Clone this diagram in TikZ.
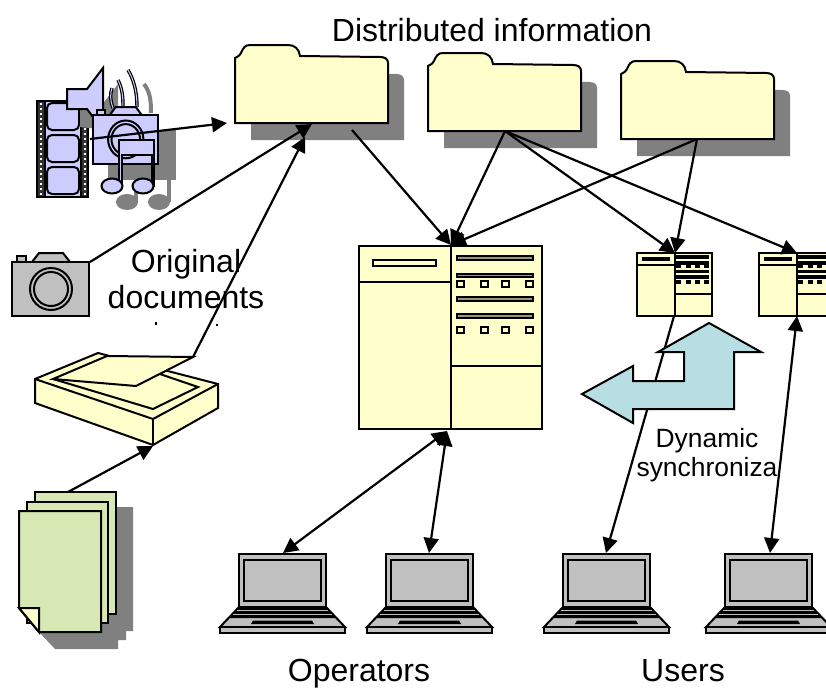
\documentclass[tikz,border=0pt]{standalone}
\usepackage{fontspec}
\setmainfont{Liberation Sans}
\usetikzlibrary{arrows.meta}
\definecolor{paleyellow}{HTML}{FFFFCC}
\definecolor{paleblue}{HTML}{B7DEE2}
\definecolor{palegreen}{HTML}{D7E8B5}
\definecolor{lavender}{HTML}{CCCCFF}
\definecolor{iconshadow}{HTML}{808080}
\definecolor{devicegray}{HTML}{C0C0C0}
\newcommand{\folderpath}{(0,13) .. controls (4,11) and (5,10) .. (6,8) .. controls (8,3) and (10,0) .. (15,0) -- (53,0) .. controls (60,0) and (64,4) .. (65,11) -- (145,12) .. controls (150,12) and (153,14) .. (153,18) -- (153,78) -- (0,78) -- cycle}
\tikzset{
    thickline/.style = {draw = black, line width = 2pt},
    link/.style = {black, line width = 2.2pt, -{Triangle[length = 15pt, width = 15pt]}},
    twolink/.style = {black, line width = 2.2pt, {Triangle[length = 15pt, width = 15pt]}-{Triangle[length = 15pt, width = 15pt]}},
    bigtext/.style = {font = \fontsize{32}{36}\selectfont, align = center, inner sep = 0pt},
    smalltext/.style = {font = \fontsize{26.4}{29}\selectfont, align = center, inner sep = 0pt},
    pics/folder/.style = {code = {
        \fill[iconshadow, shift = {(16,17)}] \folderpath;
        \draw[thickline, fill = paleyellow] \folderpath;
    }},
    pics/server/.style = {code = {
        \draw[thickline, fill = paleyellow] (0,0) rectangle (183,183);
        \draw[thickline] (92,0) -- (92,183);
        \draw[thickline] (0,36) -- (92,36);
        \draw[thickline] (92,120) -- (183,120);
        \draw[thickline, fill = paleyellow] (14,14) rectangle (77,20);
        \foreach \y in {10,27.5,51,68}
            \draw[thickline, fill = paleyellow!60!black] (98,\y) rectangle (174,\y+3.5);
        \foreach \y in {35,81}
            \foreach \x in {98,122,143,167}
                \draw[thickline, fill = paleyellow] (\x,\y) rectangle (\x+7,\y+6);
    }},
    pics/laptop/.style = {code = {
        \draw[thickline, fill = devicegray] (0,0) rectangle (87,53);
        \draw[thickline, fill = devicegray] (5,6) rectangle (82,47);
        \draw[thickline, fill = devicegray] (0,53) -- (87,53) -- (106,73) -- (-19,73) -- cycle;
        \draw[thickline, fill = devicegray] (-19,73) rectangle (106,79);
        \fill (0,53) -- (87,53) -- (98,64) -- (-11,64) -- cycle;
        \draw[devicegray, line width = .9pt] (-2,56.5) -- (89,56.5);
        \draw[devicegray, line width = .9pt] (-6,60.5) -- (93,60.5);
        \fill (14,66.5) -- (73,66.5) -- (75,70) -- (12,70) -- cycle;
    }},
    pics/photocam/.style = {code = {
        \draw[thickline, fill = #1] (5,9) rectangle (14,3);
        \draw[thickline, fill = #1] (20,9) -- (27,0) -- (51,0) -- (58,9) -- cycle;
        \draw[thickline, fill = #1] (0,9) rectangle (77,63);
        \draw[thickline, fill = #1] (39,36) circle (21);
        \draw[thickline, fill = #1] (39,36) circle (17);
    }},
}
\begin{document}
\begin{tikzpicture}[x = 1pt, y = -1pt]
    \useasboundingbox (0,0) rectangle (826,688);
    \clip (0,0) rectangle (826,688);

    \coordinate (filmout) at (90,139);
    \coordinate (photoout) at (90,262);
    \coordinate (scanout) at (193,357);
    \coordinate (scanin) at (153,446);
    \coordinate (pagesout) at (68,492);
    \coordinate (folderin) at (227,123);
    \coordinate (folderphoto) at (312,124);
    \coordinate (folderscan) at (305,137);
    \coordinate (folderaout) at (352,130);
    \coordinate (folderbout) at (505,131);
    \coordinate (folderdout) at (697,139);
    \coordinate (mainin) at (451,245);
    \coordinate (mainout) at (447,431);
    \coordinate (sidein) at (675,253);
    \coordinate (sideout) at (674,316);
    \coordinate (farin) at (797,253);
    \coordinate (farout) at (797,316);
    \coordinate (laptopa) at (283,553);
    \coordinate (laptopb) at (429,553);
    \coordinate (laptopc) at (606,553);
    \coordinate (laptopd) at (770,553);

    \draw[thickline, fill = black!80] (37,101) rectangle (88,197);
    \draw[white, line width = 2pt, dash pattern = on 2pt off 3pt] (41,103) -- (41,195);
    \draw[white, line width = 2pt, dash pattern = on 2pt off 3pt] (84.5,103) -- (84.5,195);
    \draw[thickline, fill = lavender] (45,101) rectangle (81,197);
    \foreach \y in {103,135,167}
        \draw[thickline, fill = lavender, rounded corners = 5pt] (47,\y) rectangle (79,\y+27);
    \fill[iconshadow] (80,108) -- (102,105) -- (118,84) -- (118,131) -- (80,127) -- cycle;
    \draw[iconshadow, line width = 4pt] (151,113) .. controls (151,100) and (150,92) .. (144,84);
    \fill[iconshadow] (108,130) rectangle (176,180);
    \fill[iconshadow] (134,156) rectangle (171,171);
    \fill[iconshadow] (134,156) rectangle (138,202);
    \fill[iconshadow] (167,156) rectangle (171,202);
    \fill[iconshadow] (127,202) ellipse (11 and 8);
    \fill[iconshadow] (159,202) ellipse (11 and 8);

    \draw[thickline, fill = lavender] (67,89) -- (87,89) -- (103,68) -- (103,130) -- (87,109) -- (67,109) -- cycle;
    \draw[black, line width = 3.4pt] (113,108) .. controls (110,100) and (110,94) .. (112,88);
    \draw[black, line width = 3.4pt] (123,106) .. controls (123,96) and (122,88) .. (118,80);
    \draw[black, line width = 3.4pt] (137,107) .. controls (137,92) and (134,80) .. (128,70);
    \draw[lavender, line width = 1pt] (113,108) .. controls (110,100) and (110,94) .. (112,88);
    \draw[lavender, line width = 1pt] (123,106) .. controls (123,96) and (122,88) .. (118,80);
    \draw[lavender, line width = 1pt] (137,107) .. controls (137,92) and (134,80) .. (128,70);
    \pic[xscale = .84, yscale = .9] at (93,107) {photocam = lavender};
    \draw[thickline, fill = lavender] (119,140) -- (154,140) -- (154,186) -- (151.5,186) -- (151.5,155) -- (122,155) -- (122,186) -- (119,186) -- cycle;
    \draw[thickline, fill = lavender] (112,186) ellipse (10.5 and 7.5);
    \draw[thickline, fill = lavender] (143,186) ellipse (10.5 and 7.5);

    \pic at (12,253) {photocam = devicegray};

    \draw[thickline, fill = paleyellow] (35,379) -- (98,353) -- (218,384) -- (218,408) -- (153,445) -- (35,403) -- cycle;
    \draw[thickline] (35,379) -- (153,419) -- (218,384);
    \draw[thickline] (153,419) -- (153,445);
    \draw[thickline] (53,379) -- (153,409) -- (198,387) -- (107,356);
    \draw[thickline, fill = paleyellow] (53,379) -- (107,356) -- (193,357) -- (136,386) -- cycle;

    \fill[iconshadow] (116,507) -- (133,507) -- (133,631) -- (126,631) -- (126,640) -- (118,640) -- (118,649) -- (55,649) -- (39,632) -- cycle;
    \draw[thickline, fill = palegreen] (35,492) rectangle (116,614);
    \draw[thickline, fill = palegreen] (27,502) rectangle (108,623);
    \draw[thickline, fill = palegreen] (19,511) -- (101,511) -- (101,632) -- (39,632) -- (19,608) -- cycle;
    \draw[thickline, fill = paleyellow] (19,608) -- (39,608) -- (39,632) -- cycle;

    \pic at (235,45) {folder};
    \pic at (428,53) {folder};
    \pic at (621,61) {folder};

    \pic at (359,246) {server};
    \pic[xscale = .41, yscale = .344] at (637,253) {server};
    \pic[xscale = .41, yscale = .344] at (759,253) {server};

    \pic at (239,554) {laptop};
    \pic at (386,554) {laptop};
    \pic at (563,554) {laptop};
    \pic at (725,554) {laptop};

    \draw[link] (filmout) -- (folderin);
    \draw[link] (photoout) -- (folderphoto);
    \draw[link] (scanout) -- (folderscan);
    \draw[link] (pagesout) -- (scanin);
    \draw[link] (folderaout) -- (mainin);
    \draw[link] (folderbout) -- (mainin);
    \draw[link] (folderdout) -- (mainin);
    \draw[link] (folderbout) -- (sidein);
    \draw[link] (folderbout) -- (farin);
    \draw[link] (folderdout) -- (sidein);
    \draw[twolink] (mainout) -- (laptopa);
    \draw[twolink] (mainout) -- (laptopb);
    \draw[link] (sideout) -- (laptopc);
    \draw[twolink] (farout) -- (laptopd);

    \draw[thickline, fill = paleblue] (582,394) -- (633,366) -- (633,381) -- (684,381) -- (684,352) -- (658,352) -- (709,323) -- (761,352) -- (734,352) -- (734,409) -- (633,409) -- (633,423) -- cycle;

    \node[bigtext, anchor = base] (distributed) at (492,41) {Distributed information};
    \node[bigtext] (original) at (186,279) {Original\\documents};
    \node[smalltext] (dynamic) at (707,455) {Dynamic\\synchroniza};
    \node[bigtext, anchor = base] (operators) at (359,681) {Operators};
    \node[bigtext, anchor = base] (users) at (683,681) {Users};
    \fill (154.5,322) rectangle (157,324.5);
    \fill (216,324) rectangle (218,326);
\end{tikzpicture}
\end{document}
